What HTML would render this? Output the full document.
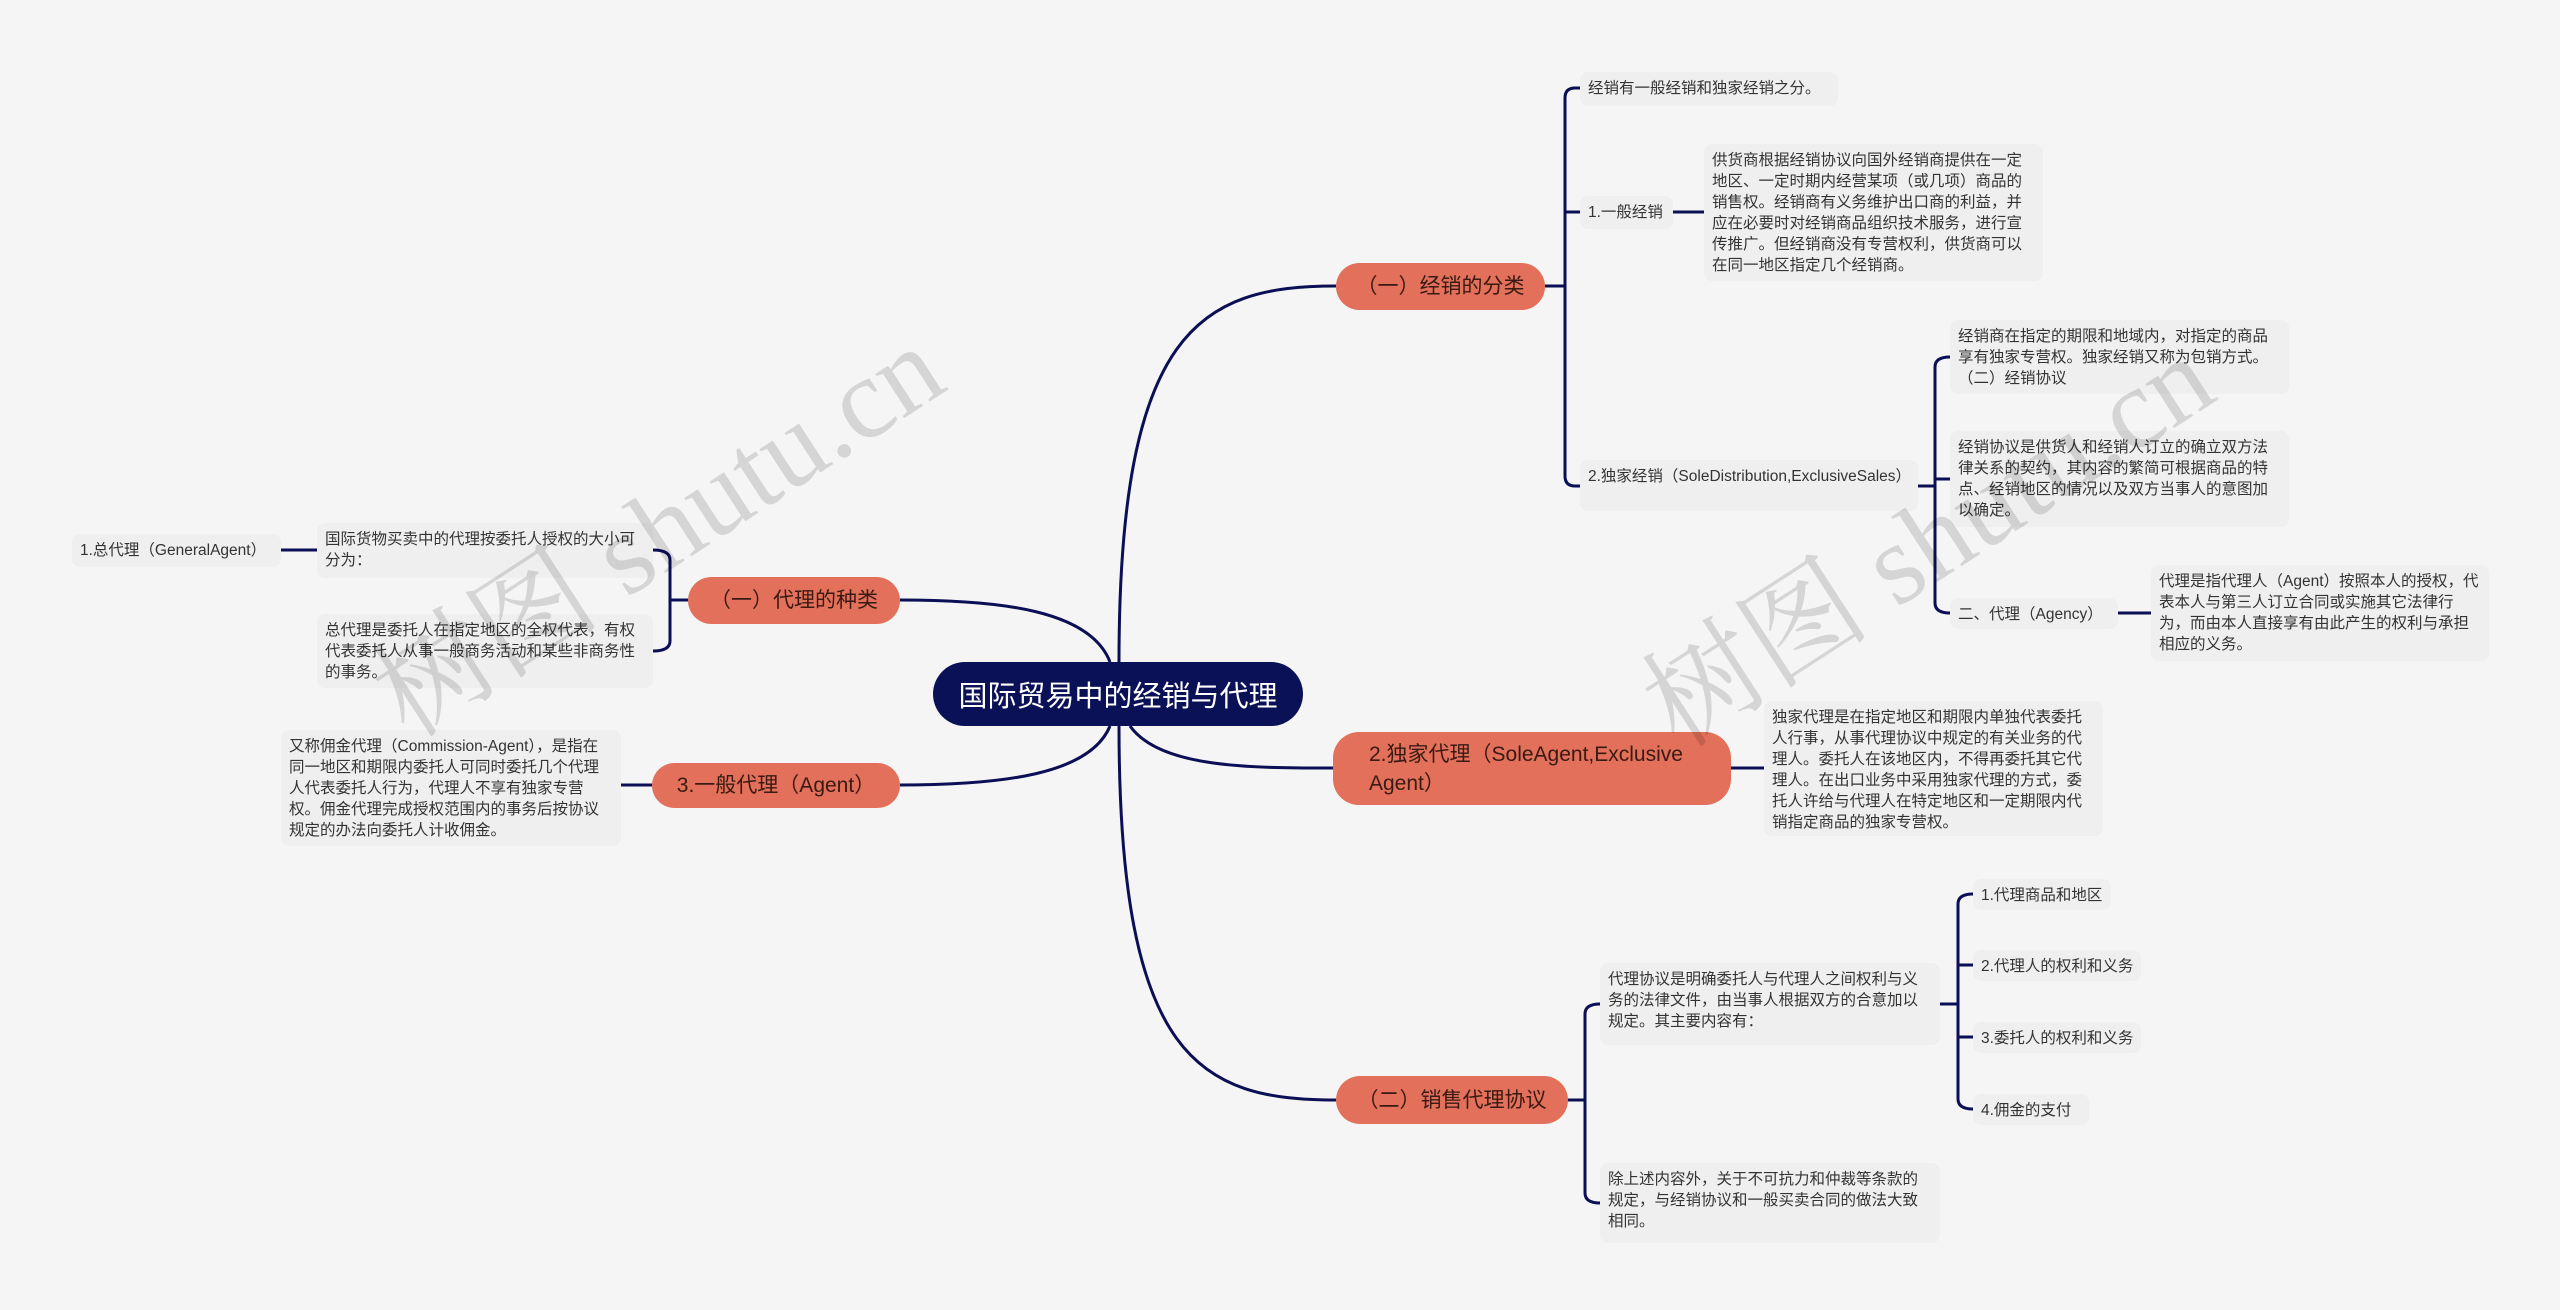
<!DOCTYPE html>
<html><head><meta charset="utf-8">
<style>
html,body{margin:0;padding:0;}
body{width:2560px;height:1310px;background:#f5f5f5;position:relative;overflow:hidden;font-family:"Liberation Sans","Noto Sans CJK SC",sans-serif;}
.b{position:absolute;background:#efefef;border-radius:8px;color:#333;font-size:15.5px;line-height:21px;padding:6px 8px;box-sizing:border-box;word-break:break-all;}
.n{white-space:nowrap;}
.o{position:absolute;background:#e2705a;border-radius:26px;color:#3a1a12;font-size:21px;line-height:29px;box-sizing:border-box;display:flex;align-items:center;justify-content:center;white-space:nowrap;}
.root{position:absolute;left:933px;top:662px;width:370px;height:64px;background:#0b1157;border-radius:32px;color:#fff;font-size:29px;display:flex;align-items:center;justify-content:center;}
.wm{position:absolute;font-family:"Liberation Serif","Noto Serif CJK SC",serif;font-size:115px;color:rgba(0,0,0,0.13);white-space:nowrap;transform:rotate(-33deg);transform-origin:center;}
svg{position:absolute;left:0;top:0;}
</style></head><body>
<svg width="2560" height="1310" fill="none" stroke="#0b0f55" stroke-width="3">
<path d="M1119,662 C1119,330 1200,286 1336,286"/>
<path d="M1130,726 C1160,768 1250,768 1333,768"/>
<path d="M1119,726 C1119,1060 1200,1100 1336,1100"/>
<path d="M1110,662 C1090,610 1000,600 900,600"/>
<path d="M1110,726 C1090,775 1000,785 900,785"/>
<path d="M1545,286 H1565 M1580,88 H1575 Q1565,88 1565,98 V476 Q1565,486 1575,486 H1580 M1565,212 Q1565,212 1580,212"/>
<path d="M1673,212 H1704"/>
<path d="M1918,486 H1935 M1950,357 Q1935,357 1935,367 V603 Q1935,613 1950,613 M1935,479 H1950"/>
<path d="M2118,613 H2151"/>
<path d="M688,600 H670 M653,550 Q670,550 670,560 V641 Q670,651 653,651"/>
<path d="M317,550 H281"/>
<path d="M652,785 H621"/>
<path d="M1731,768 H1764"/>
<path d="M1568,1100 H1585 M1600,1004 Q1585,1004 1585,1014 V1193 Q1585,1203 1600,1203"/>
<path d="M1940,1004 H1958 M1973,894 Q1958,894 1958,904 V1099 Q1958,1109 1973,1109 M1958,965 H1973 M1958,1037 H1973"/>
</svg>

<div class="root">国际贸易中的经销与代理</div>

<div class="o" style="left:1336px;top:263px;width:209px;height:47px;">（一）经销的分类</div>
<div class="o" style="left:1333px;top:732px;width:398px;height:73px;justify-content:flex-start;padding-left:36px;">2.独家代理（SoleAgent,Exclusive<br>Agent）</div>
<div class="o" style="left:1336px;top:1076px;width:232px;height:48px;">（二）销售代理协议</div>
<div class="o" style="left:688px;top:577px;width:212px;height:47px;">（一）代理的种类</div>
<div class="o" style="left:652px;top:763px;width:248px;height:45px;">3.一般代理（Agent）</div>

<div class="b n" style="left:1580px;top:72px;width:258px;height:34px;">经销有一般经销和独家经销之分。</div>
<div class="b n" style="left:1580px;top:196px;width:93px;height:33px;">1.一般经销</div>
<div class="b" style="left:1704px;top:144px;width:339px;height:137px;">供货商根据经销协议向国外经销商提供在一定地区、一定时期内经营某项（或几项）商品的销售权。经销商有义务维护出口商的利益，并应在必要时对经销商品组织技术服务，进行宣传推广。但经销商没有专营权利，供货商可以在同一地区指定几个经销商。</div>
<div class="b" style="left:1580px;top:460px;width:338px;height:51px;">2.独家经销（SoleDistribution,ExclusiveSales）</div>
<div class="b" style="left:1950px;top:320px;width:339px;height:74px;">经销商在指定的期限和地域内，对指定的商品享有独家专营权。独家经销又称为包销方式。（二）经销协议</div>
<div class="b" style="left:1950px;top:431px;width:339px;height:96px;">经销协议是供货人和经销人订立的确立双方法律关系的契约，其内容的繁简可根据商品的特点、经销地区的情况以及双方当事人的意图加以确定。</div>
<div class="b n" style="left:1950px;top:598px;width:168px;height:31px;">二、代理（Agency）</div>
<div class="b" style="left:2151px;top:565px;width:338px;height:96px;">代理是指代理人（Agent）按照本人的授权，代表本人与第三人订立合同或实施其它法律行为，而由本人直接享有由此产生的权利与承担相应的义务。</div>

<div class="b" style="left:1764px;top:701px;width:339px;height:135px;">独家代理是在指定地区和期限内单独代表委托人行事，从事代理协议中规定的有关业务的代理人。委托人在该地区内，不得再委托其它代理人。在出口业务中采用独家代理的方式，委托人许给与代理人在特定地区和一定期限内代销指定商品的独家专营权。</div>

<div class="b" style="left:1600px;top:963px;width:340px;height:82px;">代理协议是明确委托人与代理人之间权利与义务的法律文件，由当事人根据双方的合意加以规定。其主要内容有：</div>
<div class="b" style="left:1600px;top:1163px;width:340px;height:80px;">除上述内容外，关于不可抗力和仲裁等条款的规定，与经销协议和一般买卖合同的做法大致相同。</div>
<div class="b n" style="left:1973px;top:879px;width:138px;height:31px;">1.代理商品和地区</div>
<div class="b n" style="left:1973px;top:950px;width:168px;height:31px;">2.代理人的权利和义务</div>
<div class="b n" style="left:1973px;top:1022px;width:168px;height:31px;">3.委托人的权利和义务</div>
<div class="b n" style="left:1973px;top:1094px;width:116px;height:31px;">4.佣金的支付</div>

<div class="b n" style="left:72px;top:534px;width:209px;height:33px;">1.总代理（GeneralAgent）</div>
<div class="b" style="left:317px;top:523px;width:336px;height:55px;">国际货物买卖中的代理按委托人授权的大小可分为：</div>
<div class="b" style="left:317px;top:614px;width:336px;height:74px;">总代理是委托人在指定地区的全权代表，有权代表委托人从事一般商务活动和某些非商务性的事务。</div>
<div class="b" style="left:281px;top:730px;width:340px;height:116px;">又称佣金代理（Commission-Agent），是指在同一地区和期限内委托人可同时委托几个代理人代表委托人行为，代理人不享有独家专营权。佣金代理完成授权范围内的事务后按协议规定的办法向委托人计收佣金。</div>

<div class="wm" style="left:330px;top:440px;">树图 shutu.cn</div>
<div class="wm" style="left:1600px;top:450px;">树图 shutu.cn</div>
</body></html>
